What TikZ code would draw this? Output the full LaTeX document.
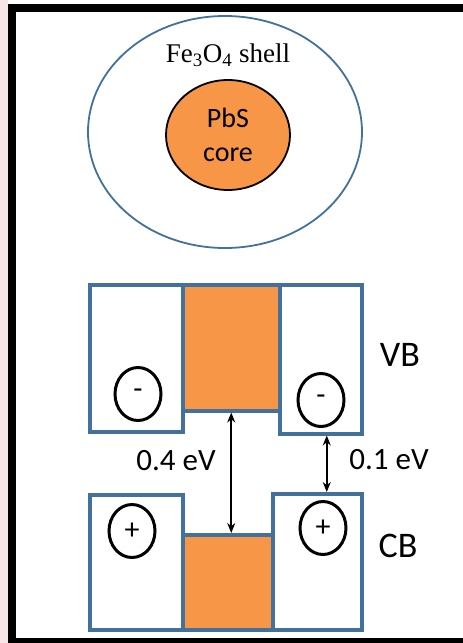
\documentclass[tikz,border=0pt]{standalone}
\usepackage{fontspec}
\setmainfont{Carlito}
\newfontfamily\shellfont{Liberation Serif}
\usetikzlibrary{arrows.meta,calc,shapes.geometric}

\definecolor{pbsorange}{HTML}{F79646}
\definecolor{edgeblue}{HTML}{41719C}
\definecolor{sidepink}{HTML}{F7E6E8}

\begin{document}
\begin{tikzpicture}[
  x=1pt,
  y=-1pt,
  >={Stealth[length=10pt,width=8pt]},
  band/.style={draw=edgeblue, line width=3.5pt, fill=white, inner sep=0pt, anchor=north west},
  well/.style={band, fill=pbsorange},
  carrier/.style={draw, ellipse, line width=3pt, minimum width=46pt, minimum height=53pt, inner sep=0pt, font=\fontsize{30}{32}\selectfont},
  lbl/.style={font=\fontsize{31}{36}\selectfont},
  bandlbl/.style={font=\fontsize{36}{40}\selectfont},
  gap/.style={<->, line width=1.6pt}
]
  \clip (0,0) rectangle (463,643);
  \fill[sidepink] (0,0) rectangle (8,643);
  \draw[line width=8pt] (12,8) rectangle (480,642);

  \node[draw=edgeblue, line width=1.8pt, ellipse, minimum width=274pt, minimum height=232pt, inner sep=0pt] (shell) at (225,132) {};
  \node[draw, line width=1.8pt, ellipse, fill=pbsorange, minimum width=124pt, minimum height=110pt, inner sep=0pt, align=center, font=\fontsize{28}{34}\selectfont] (core) at (228,135) {PbS\\core};
  \node[font=\shellfont\fontsize{27}{30}\selectfont] (shelltxt) at (228,55) {Fe\textsubscript{3}O\textsubscript{4} shell};

  \node[band, minimum width=93pt, minimum height=147pt] (vbl) at (88,283) {};
  \node[well, minimum width=97pt, minimum height=126pt] (vbm) at (181,283) {};
  \node[band, minimum width=82pt, minimum height=149pt] (vbr) at (278,283) {};

  \node[band, minimum width=93pt, minimum height=135pt] (cbl) at (88,493) {};
  \node[well, minimum width=90pt, minimum height=95pt] (cbm) at (181,533) {};
  \node[band, minimum width=89pt, minimum height=136pt] (cbr) at (271,492) {};

  \node[carrier] (e1) at (138,394) {-};
  \node[carrier] (e2) at (321,400) {-};
  \node[carrier] (h1) at (132,531) {+};
  \node[carrier] (h2) at (323,528) {+};

  \node[bandlbl] (vb) at (400,355) {VB};
  \node[bandlbl] (cb) at (398,546) {CB};
  \node[lbl] (g1) at (176,461) {0.4 eV};
  \node[lbl] (g2) at (389,460) {0.1 eV};

  \draw[gap] (vbm.south) -- (vbm.south |- cbm.north);
  \draw[gap] ([xshift=6pt]vbr.south) -- ([xshift=6pt]vbr.south |- cbr.north);
\end{tikzpicture}
\end{document}
